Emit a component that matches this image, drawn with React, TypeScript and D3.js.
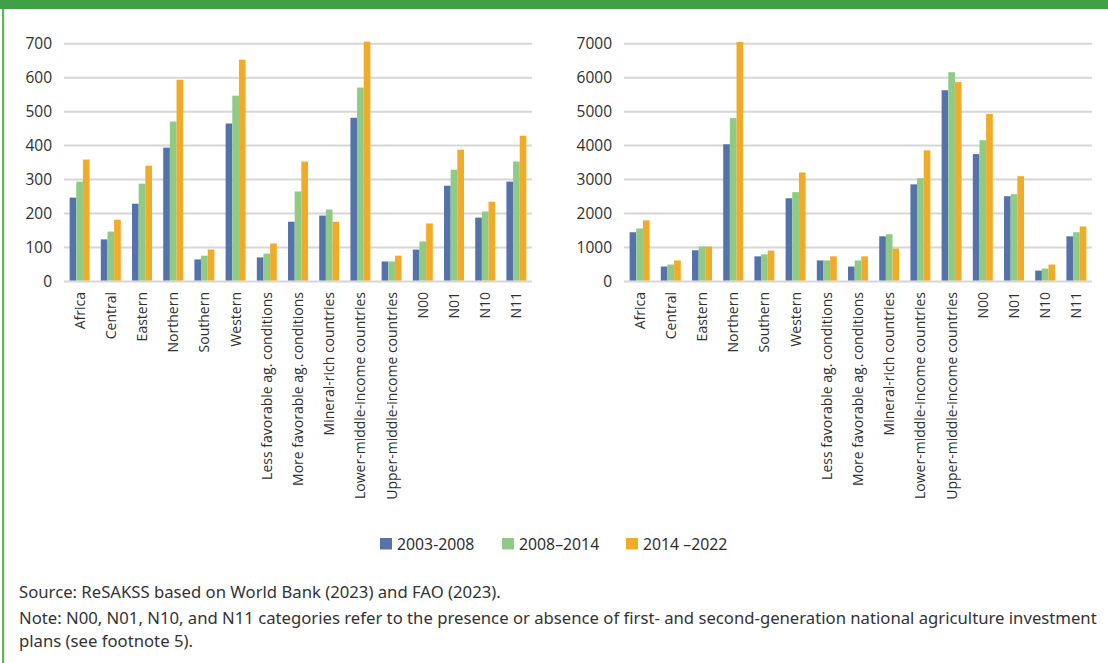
import React from "react";
import * as d3 from "d3";

// Categories shared by both panels
const categories = [
  "Africa",
  "Central",
  "Eastern",
  "Northern",
  "Southern",
  "Western",
  "Less favorable ag. conditions",
  "More favorable ag. conditions",
  "Mineral-rich countries",
  "Lower-middle-income countries",
  "Upper-middle-income countries",
  "N00",
  "N01",
  "N10",
  "N11",
];

const periods = ["2003-2008", "2008–2014", "2014 –2022"];
const periodColors = ["#5572a9", "#8fcb85", "#f0ab28"];

// Left panel values
const left2003 = [247, 124, 229, 394, 65, 465, 71, 176, 194, 482, 59, 94, 282, 188, 294];
const left2008 = [294, 147, 288, 471, 76, 547, 82, 265, 212, 571, 59, 118, 329, 206, 353];
const left2014 = [359, 182, 341, 594, 94, 653, 112, 353, 176, 706, 76, 171, 388, 235, 429];
const leftTicks = [0, 100, 200, 300, 400, 500, 600, 700];

// Right panel values
const right2003 = [1450, 440, 920, 4040, 740, 2450, 620, 440, 1330, 2860, 5630, 3750, 2510, 320, 1330];
const right2008 = [1560, 500, 1030, 4810, 800, 2630, 620, 620, 1390, 3040, 6160, 4160, 2570, 380, 1450];
const right2014 = [1800, 620, 1030, 7050, 910, 3210, 740, 740, 970, 3860, 5870, 4930, 3100, 500, 1620];
const rightTicks = [0, 1000, 2000, 3000, 4000, 5000, 6000, 7000];

const sourceText = "Source: ReSAKSS based on World Bank (2023) and FAO (2023).";
const noteLines = [
  "Note: N00, N01, N10, and N11 categories refer to the presence or absence of first- and second-generation national agriculture investment",
  "plans (see footnote 5).",
];

const W = 1108;
const H = 663;
const AXIS_FONT = "'Open Sans', 'Noto Sans', sans-serif";
const NOTE_FONT = "'Noto Sans', 'Open Sans', sans-serif";
const TEXT = "#2f2f2f";

type PanelProps = {
  x0: number;
  x1: number;
  series: number[][];
  ticks: number[];
};

function Panel({ x0, x1, series, ticks }: PanelProps) {
  const yTop = 43.7;
  const yBase = 281.5;
  const x = d3.scaleBand<string>().domain(categories).range([x0, x1]).paddingInner(0.36).paddingOuter(0.18);
  const inner = d3.scaleBand<number>().domain(d3.range(series.length)).range([0, x.bandwidth()]);
  const y = d3.scaleLinear().domain([0, ticks[ticks.length - 1]]).range([yBase, yTop]);

  return (
    <g>
      {ticks.map((t) => (
        <g key={t}>
          <line x1={x0} x2={x1} y1={y(t)} y2={y(t)} stroke="#d6d6d6" strokeWidth={2} />
          <text
            x={x0 - 12}
            y={y(t)}
            dy="0.35em"
            textAnchor="end"
            fontSize={15.5}
            fontFamily={AXIS_FONT}
            fill={TEXT}
          >
            {t}
          </text>
        </g>
      ))}
      {categories.map((c, i) => (
        <g key={c}>
          {series.map((vals, s) => (
            <rect
              key={s}
              x={(x(c) as number) + (inner(s) as number)}
              y={y(vals[i])}
              width={inner.bandwidth()}
              height={yBase - 1 - y(vals[i])}
              fill={periodColors[s]}
            />
          ))}
          <text
            transform={`translate(${(x(c) as number) + x.bandwidth() / 2},292) rotate(-90)`}
            textAnchor="end"
            dy="0.35em"
            fontSize={14}
            fontFamily={AXIS_FONT}
            fill={TEXT}
          >
            {c}
          </text>
        </g>
      ))}
    </g>
  );
}

function Legend() {
  const starts = [380, 502, 626];
  return (
    <g>
      {periods.map((p, i) => (
        <g key={p}>
          <rect x={starts[i]} y={538} width={12} height={11.5} fill={periodColors[i]} />
          <text x={starts[i] + 17} y={550} fontSize={15.8} fontFamily={NOTE_FONT} fill={TEXT}>
            {p}
          </text>
        </g>
      ))}
    </g>
  );
}

export default function App() {
  return (
    <div style={{ position: "absolute", left: 0, top: 0, width: W, height: H, background: "#fff" }}>
      <svg width={W} height={H} viewBox={`0 0 ${W} ${H}`} style={{ display: "block" }}>
        <rect x={0} y={0} width={W} height={H} fill="#fff" />
        <rect x={0} y={0} width={W} height={9} fill="#3fa046" />
        <rect x={2} y={9} width={2.2} height={H - 9} fill="#5cb85c" />
        <Panel x0={64} x1={532} series={[left2003, left2008, left2014]} ticks={leftTicks} />
        <Panel x0={624} x1={1092} series={[right2003, right2008, right2014]} ticks={rightTicks} />
        <Legend />
        <text x={19} y={598} fontSize={16.7} fontFamily={NOTE_FONT} fill="#333">
          {sourceText}
        </text>
        {noteLines.map((l, i) => (
          <text key={i} x={19} y={624 + i * 23} fontSize={16.7} fontFamily={NOTE_FONT} fill="#333">
            {l}
          </text>
        ))}
      </svg>
    </div>
  );
}
